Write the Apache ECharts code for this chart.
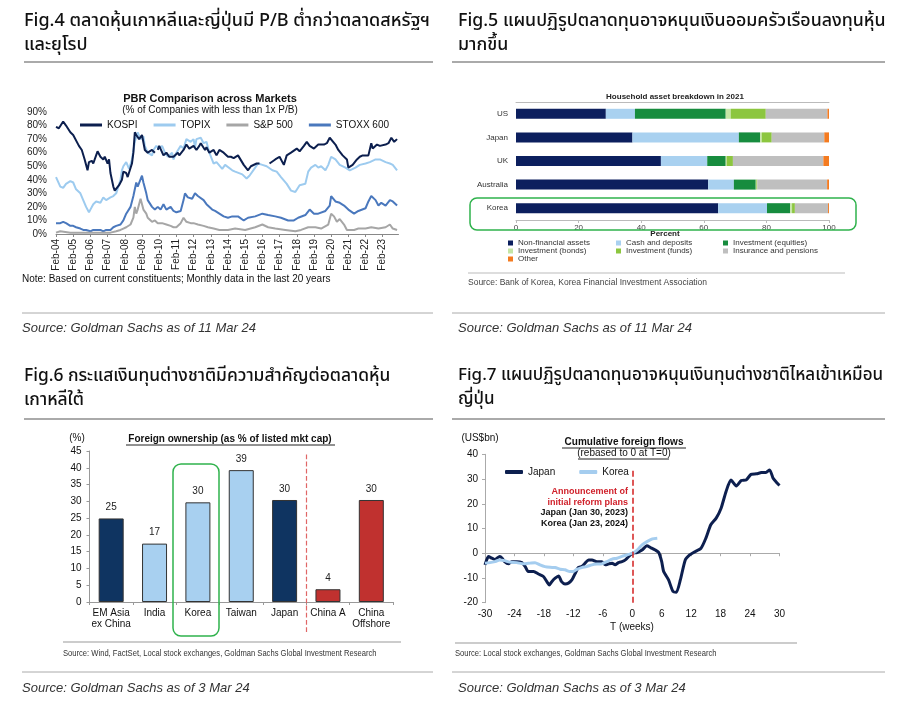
<!DOCTYPE html>
<html><head><meta charset="utf-8">
<script src="https://cdn.jsdelivr.net/npm/echarts@6/dist/echarts.min.js"></script>
<style>html,body{margin:0;padding:0;background:#fff}#c{width:900px;height:713px}</style>
</head><body><div id="c"></div>
<script>
// ---------- Fig.4 : PBR comparison (x = months since Feb-04) ----------
const pbrKOSPI = [[0,79],[2,78],[5,83],[7,80],[10,75],[12,73],[16,65],[18,62],[20,55],[22,47],[23,53],[25,54],[26,52],[28,58],[29,61],[31,57],[33,55],[34,57],[36,52],[37,55],[38,45],[40,35],[41,32],[44,36],[46,40],[47,46],[49,45],[50,42],[53,52],[54,60],[55,75],[56,73],[57,74],[58,70],[60,73],[62,62],[64,60],[67,62],[69,60],[70,'-'],[71,62],[72,65],[75,58],[77,60],[79,57],[82,57],[85,60],[86,58],[89,62],[91,66],[92,67],[93,63],[96,65],[98,62],[100,65],[101,67],[104,62],[105,64],[107,60],[110,62],[112,58],[114,62],[117,60],[120,57],[122,57],[124,56],[127,58],[131,51],[134,47],[136,50],[140,52],[142,52],[145,'-'],[149,52],[153,55],[156,57],[159,51],[161,58],[164,60],[168,63],[170,61],[173,65],[175,68],[177,65],[180,63],[183,66],[187,66],[189,67],[191,71],[192,72],[195,66],[197,62],[200,58],[203,55],[204,49],[207,51],[210,55],[212,57],[214,58],[218,58],[220,67],[221,63],[224,66],[226,65],[230,66],[232,67],[234,71],[235,70],[236,68],[238,70]];
const pbrTOPIX = [[0,42],[3,35],[5,34],[7,37],[10,39],[12,38],[14,33],[17,30],[19,25],[21,20],[23,16],[24,18],[26,22],[28,24],[31,23],[33,27],[35,25],[38,27],[40,28],[42,30],[45,40],[46,47],[47,50],[49,53],[51,48],[53,55],[55,68],[57,75],[59,70],[61,72],[62,65],[64,60],[67,58],[68,62],[70,65],[72,63],[74,65],[76,60],[78,57],[81,60],[82,55],[84,60],[87,65],[89,63],[91,70],[94,68],[96,70],[97,64],[98,70],[101,71],[103,67],[105,68],[107,60],[110,52],[112,53],[116,48],[118,51],[123,47],[125,46],[130,44],[133,41],[135,43],[139,49],[141,52],[144,51],[147,50],[151,47],[154,46],[157,42],[161,37],[164,32],[167,31],[170,36],[174,37],[176,46],[178,49],[181,51],[183,49],[185,50],[188,47],[190,51],[192,57],[195,55],[198,51],[202,49],[205,47],[209,49],[212,51],[216,52],[219,53],[223,55],[226,55],[230,53],[233,52],[235,51],[238,47]];
const pbrSP500 = [[0,1],[3,2],[10,1],[21,1],[33,1],[38,1],[42,2],[45,3],[47,4],[49,5],[52,7],[54,12],[55,20],[56,15],[57,18],[59,26],[61,18],[63,15],[64,12],[67,9],[69,10],[71,8],[74,8],[77,7],[80,6],[82,5],[84,5],[87,8],[89,12],[91,9],[94,8],[96,8],[99,7],[103,6],[106,5],[110,4],[114,3],[120,3],[125,4],[132,3],[139,5],[144,7],[148,5],[153,4],[160,3],[167,2],[171,3],[176,5],[181,5],[185,4],[190,7],[192,15],[194,13],[196,9],[198,11],[201,7],[203,3],[208,3],[211,4],[216,4],[220,5],[225,4],[230,5],[233,7],[235,4],[238,3]];
const pbrSTOXX = [[0,8],[3,8],[5,9],[7,8],[10,6],[12,6],[14,5],[17,4],[19,3],[21,3],[24,2],[26,3],[31,3],[33,2],[35,3],[38,3],[40,5],[42,6],[45,7],[47,10],[49,15],[52,20],[54,28],[56,38],[57,35],[60,43],[61,38],[63,30],[64,25],[67,20],[69,18],[71,20],[73,18],[75,22],[77,18],[80,20],[82,17],[84,16],[87,17],[89,25],[90,30],[92,27],[95,26],[97,30],[99,28],[103,25],[105,22],[109,18],[111,17],[114,15],[117,13],[120,12],[123,13],[127,13],[131,10],[134,12],[139,13],[144,15],[148,14],[153,13],[157,12],[162,10],[166,10],[169,12],[174,14],[177,18],[180,15],[183,15],[188,17],[191,21],[192,28],[195,24],[198,23],[201,21],[204,18],[208,15],[211,17],[216,19],[218,24],[220,28],[223,25],[225,21],[227,23],[230,21],[233,25],[235,24],[238,21]];
const pbrSeriesNames = ['KOSPI','TOPIX','S&P 500','STOXX 600'];

// ---------- Fig.5 : Household asset breakdown in 2021 ----------
const hhCountries = ['US','Japan','UK','Australia','Korea'];
const hhNonFin    = [28.7,37.2,46.3,61.4,64.6];
const hhCash      = [9.3,34.0,14.8,8.2,15.6];
const hhEquities  = [29.0,6.8,5.9,7.0,7.4];
const hhBonds     = [1.6,0.5,0.3,0.2,0.6];
const hhFunds     = [11.2,3.2,2.0,0.3,0.9];
const hhInsurance = [19.7,16.8,28.9,22.3,10.6];
const hhOther     = [0.5,1.5,1.8,0.6,0.3];
const hhNames = ['Non-financial assets','Cash and deposits','Investment (equities)','Investment (bonds)','Investment (funds)','Insurance and pensions','Other'];

// ---------- Fig.6 : Foreign ownership ----------
const foCategories = ['EM Asia\nex China','India','Korea','Taiwan','Japan','China A','China\nOffshore'];
const foValues = [24.9,17.4,29.7,39.3,30.4,3.8,30.4];

// ---------- Fig.7 : Cumulative foreign flows (T weeks, US$bn) ----------
const flowJapan = [[-30,-4.7],[-29.3,-1.3],[-28.6,-2],[-28,-2.5],[-27,-1.3],[-26.5,-2],[-26,-3.4],[-25.2,-4.3],[-24.6,-3.4],[-23.5,-3.4],[-22.5,-3.8],[-21.8,-5.4],[-21.2,-7.4],[-20.1,-7.4],[-19.1,-8.4],[-18.1,-9.4],[-17.4,-11.5],[-16.9,-12.8],[-16.4,-11.5],[-15.7,-10.1],[-15,-9.2],[-14.4,-11.5],[-13.7,-12.4],[-13,-12.1],[-12.3,-10.8],[-11.6,-8.1],[-11,-5.8],[-10.3,-5.4],[-9.6,-4],[-8.9,-2.7],[-8.2,-2.7],[-7.2,-3.4],[-6.2,-3.4],[-5.5,-4.7],[-4.8,-4.3],[-4.1,-4],[-3.5,-4.7],[-2.8,-3.8],[-2.1,-3.4],[-1.4,-2.7],[-0.7,-1.3],[0,0],[1,0.3],[2,1.3],[3,3],[3.7,2.3],[4.7,1.3],[5.4,0.3],[6,-3.4],[6.4,-7.4],[7.4,-10.8],[8.3,-15.5],[9,-15.8],[9.8,-10.8],[10.8,-2.7],[11.7,-0.7],[12.5,0.3],[14,2],[15,6.1],[16,11.5],[17.1,14.2],[18.1,18.2],[19.1,24.9],[20.1,29.6],[21.2,27.2],[22.2,29.4],[23.2,29.6],[24.2,31.9],[25.3,32.1],[26.3,32.6],[27.3,32.7],[28,33.7],[28.7,30.3],[29.4,28.6],[30,27.4]];
const flowKorea = [[-30,-4],[-29,-3.8],[-28,-3.4],[-27,-2.7],[-26,-3],[-25,-3.6],[-23.5,-3.8],[-22.2,-4.3],[-20.8,-4],[-19.8,-3.8],[-18.8,-4.7],[-17.8,-5.4],[-16.7,-5.7],[-15.7,-5.8],[-14.7,-6.5],[-13.7,-6.7],[-12.7,-7.4],[-12,-7.4],[-11.3,-6.5],[-10.3,-5.8],[-9.3,-5.4],[-8.2,-4.7],[-7.2,-4.4],[-6.2,-4.3],[-5.2,-3.4],[-4.1,-2.4],[-3.1,-2],[-2.1,-1.3],[-1.1,-0.7],[0,0],[1,1.3],[2,3.4],[3,4.7],[4.1,5.8],[5.1,6.1]];

// ---------- styling ----------
const FONT = '"Liberation Sans", Arial, sans-serif';
const THAI = '"Noto Sans Thai", "Noto Sans Thai Looped", "Noto Sans", "DejaVu Sans", sans-serif';
const hhColors = ['#0c1f5e','#a9d1f0','#178c3e','#c5e5a5','#8cc63f','#bfbfbf','#f47b20'];
const foColorFor = i => (i === 0 || i === 4) ? '#0f3461' : (i >= 5 ? '#c0312f' : '#a8d0f0');

function txt(x, y, text, o) {
  o = o || {};
  const st = {text, fontSize:o.size||10, fontFamily:o.family||FONT, fontWeight:o.weight||'normal',
    fontStyle:o.style||'normal', fill:o.color||'#222', align:o.align||'left', verticalAlign:'middle'};
  if (o.lh) st.lineHeight = o.lh;
  const el = {type:'text', x, y, silent:true, z:100, style:st};
  if (o.sx) el.scaleX = o.sx;
  return el;
}
function ln(x1,y1,x2,y2,c,w){ return {type:'line', silent:true, z:100, shape:{x1,y1,x2,y2}, style:{stroke:c||'#aaa', lineWidth:w||1}}; }
function rr(x,y,w,h,r,c){ return {type:'rect', silent:true, z:100, shape:{x,y,width:w,height:h,r}, style:{fill:'none', stroke:c, lineWidth:1.5}}; }

const thai = s => ({size:s, family:THAI, color:'#111', weight:500});
const srcStyle = {size:13, style:'italic', color:'#333'};
const narrowSrc = {size:9.5, color:'#333', sx:0.8};

const chart = echarts.init(document.getElementById('c'), null, {renderer:'canvas'});
const pbrColors = {'KOSPI':'#0c1f4e','TOPIX':'#9dcbef','S&P 500':'#a6a6a6','STOXX 600':'#4a78bd'};
const pbrData = {'KOSPI':pbrKOSPI,'TOPIX':pbrTOPIX,'S&P 500':pbrSP500,'STOXX 600':pbrSTOXX};
const hhData = [hhNonFin,hhCash,hhEquities,hhBonds,hhFunds,hhInsurance,hhOther];

const option = {
  backgroundColor:'#fff',
  animation:false,
  textStyle:{fontFamily:FONT},
  grid:[
    {left:56, top:112, width:342.5, height:122},
    {left:516, top:102, width:313, height:118},
    {left:89.5, top:451, width:303.5, height:151},
    {left:89.5, top:452, width:303.5, height:180},
    {left:485, top:454.3, width:294.5, height:148.4}
  ],
  xAxis:[
    {gridIndex:0, type:'value', min:0, max:239, interval:12,
     axisLine:{show:true, lineStyle:{color:'#888'}}, axisTick:{show:true, length:3, lineStyle:{color:'#888'}},
     splitLine:{show:false},
     axisLabel:{rotate:90, fontSize:10, color:'#222', margin:5, showMaxLabel:false,
       formatter: v => (Math.abs(v % 12) < 1e-6) ? 'Feb-' + String(4 + Math.round(v/12)).padStart(2,'0') : ''}},
    {gridIndex:1, type:'value', min:0, max:100, interval:20, position:'bottom',
     axisLine:{show:true, lineStyle:{color:'#bbb'}}, axisTick:{show:true, length:3, lineStyle:{color:'#bbb'}},
     splitLine:{show:false}, axisLabel:{fontSize:8, color:'#444', margin:4}},
    {gridIndex:1, type:'value', min:0, max:100, position:'top',
     axisLine:{show:true, lineStyle:{color:'#bbb'}}, axisTick:{show:false}, axisLabel:{show:false}, splitLine:{show:false}},
    {gridIndex:2, type:'category', data:foCategories,
     axisLine:{show:true, lineStyle:{color:'#999'}}, axisTick:{show:true, length:3, lineStyle:{color:'#999'}},
     axisLabel:{fontSize:10, color:'#111', margin:6, lineHeight:11, interval:0}},
    {gridIndex:3, type:'value', min:0, max:7, show:false},
    {gridIndex:4, type:'value', min:-30, max:30, interval:6, position:'bottom',
     axisLine:{show:true, onZero:true, lineStyle:{color:'#aaa'}}, axisTick:{show:true, length:3, lineStyle:{color:'#aaa'}},
     axisLabel:{show:false}, splitLine:{show:false}},
    {gridIndex:4, type:'value', min:-30, max:30, interval:6, position:'bottom',
     axisLine:{show:false, onZero:false}, axisTick:{show:false},
     axisLabel:{fontSize:10, color:'#111', margin:7}, splitLine:{show:false}}
  ],
  yAxis:[
    {gridIndex:0, type:'value', min:0, max:90, interval:10, axisLine:{show:false}, axisTick:{show:false},
     splitLine:{show:false}, axisLabel:{formatter:'{value}%', fontSize:10, color:'#222', margin:9}},
    {gridIndex:1, type:'category', inverse:true, data:hhCountries, axisLine:{show:false}, axisTick:{show:false},
     axisLabel:{fontSize:8, color:'#333', margin:8}},
    {gridIndex:2, type:'value', min:0, max:45, interval:5,
     axisLine:{show:true, lineStyle:{color:'#999'}}, axisTick:{show:true, length:3, lineStyle:{color:'#999'}},
     splitLine:{show:false}, axisLabel:{fontSize:10, color:'#111', margin:8}},
    {gridIndex:3, type:'value', min:0, max:1, show:false},
    {gridIndex:4, type:'value', min:-20, max:40, interval:10,
     axisLine:{show:true, onZero:false, lineStyle:{color:'#aaa'}}, axisTick:{show:true, length:3, lineStyle:{color:'#aaa'}},
     splitLine:{show:false}, axisLabel:{fontSize:10, color:'#111', margin:7}}
  ],
  legend:[
    {data:pbrSeriesNames, left:75, top:115, icon:'rect', itemWidth:22, itemHeight:3, itemGap:16,
     textStyle:{fontSize:10, color:'#111', fontFamily:FONT}},
    {data:[hhNames[0],hhNames[3],hhNames[6]], orient:'vertical', left:503, top:234, icon:'rect', itemWidth:5, itemHeight:5, itemGap:0,
     textStyle:{fontSize:8, lineHeight:8, color:'#333', fontFamily:FONT}},
    {data:[hhNames[1],hhNames[4]], orient:'vertical', left:611, top:234, icon:'rect', itemWidth:5, itemHeight:5, itemGap:0,
     textStyle:{fontSize:8, lineHeight:8, color:'#333', fontFamily:FONT}},
    {data:[hhNames[2],hhNames[5]], orient:'vertical', left:718, top:234, icon:'rect', itemWidth:5, itemHeight:5, itemGap:0,
     textStyle:{fontSize:8, lineHeight:8, color:'#333', fontFamily:FONT}},
    {data:['Japan','Korea'], left:500, top:462, icon:'roundRect', itemWidth:18, itemHeight:4, itemGap:24,
     textStyle:{fontSize:10, color:'#111', fontFamily:FONT}}
  ],
  series:[
    ...['STOXX 600','S&P 500','TOPIX','KOSPI'].map(n => ({
      name:n, type:'line', xAxisIndex:0, yAxisIndex:0, data:pbrData[n], showSymbol:false, silent:true,
      lineStyle:{width:2, color:pbrColors[n]}, itemStyle:{color:pbrColors[n]}
    })),
    ...hhNames.map((n,i) => ({
      name:n, type:'bar', stack:'hh', xAxisIndex:1, yAxisIndex:1, barWidth:10, data:hhData[i], silent:true,
      itemStyle:{color:hhColors[i]}
    })),
    {name:'Foreign ownership', type:'bar', xAxisIndex:3, yAxisIndex:2, barWidth:25, silent:true,
     data:foValues.map((v,i) => ({value:v, itemStyle:{color:foColorFor(i)}})),
     itemStyle:{borderColor:'#333', borderWidth:1},
     label:{show:true, position:'top', fontSize:10, color:'#222', distance:6, formatter: p => Math.round(p.value)}},
    {name:'divider', type:'line', xAxisIndex:4, yAxisIndex:3, data:[], silent:true,
     markLine:{silent:true, symbol:'none', label:{show:false}, lineStyle:{type:'dashed', color:'#e06666', width:1.2},
       data:[{xAxis:5}]}},
    {name:'Japan', type:'line', xAxisIndex:5, yAxisIndex:4, data:flowJapan, showSymbol:false, silent:true, smooth:0.2,
     lineStyle:{width:3, color:'#0d1f4f'}, itemStyle:{color:'#0d1f4f'},
     markLine:{silent:true, symbol:'none', label:{show:false}, lineStyle:{type:'dashed', color:'#d32020', width:1.5},
       data:[[{coord:[0,-20]},{coord:[0,34]}]]}},
    {name:'Korea', type:'line', xAxisIndex:5, yAxisIndex:4, data:flowKorea, showSymbol:false, silent:true, smooth:0.2,
     lineStyle:{width:3, color:'#a5cdef'}, itemStyle:{color:'#a5cdef'}}
  ],
  graphic:[
    // Fig.4
    txt(24,22,'Fig.4 ตลาดหุ้นเกาหลีและญี่ปุ่นมี P/B ต่ำกว่าตลาดสหรัฐฯ',thai(18)),
    txt(24,46,'และยุโรป',thai(18)),
    ln(24,62,433,62,'#aaa',2),
    txt(210,99,'PBR Comparison across Markets',{size:11, weight:'bold', align:'center', color:'#111'}),
    txt(210,110,'(% of Companies with less than 1x P/B)',{size:10, align:'center', color:'#111'}),
    txt(22,279,'Note: Based on current constituents; Monthly data in the last 20 years',{size:10, color:'#111'}),
    ln(22,313,433,313,'#aaa',1),
    txt(22,328,'Source: Goldman Sachs as of 11 Mar 24',srcStyle),
    // Fig.5
    txt(458,22,'Fig.5 แผนปฏิรูปตลาดทุนอาจหนุนเงินออมครัวเรือนลงทุนหุ้น',thai(17.8)),
    txt(458,46,'มากขึ้น',thai(17.8)),
    ln(452,62,885,62,'#aaa',2),
    txt(675,97,'Household asset breakdown in 2021',{size:8, weight:'bold', align:'center', color:'#222'}),
    txt(665,234,'Percent',{size:8, weight:'bold', align:'center', color:'#222'}),
    rr(470,198,386,32,7,'#2fb24c'),
    ln(468,273,845,273,'#bbb',1),
    txt(468,283,'Source: Bank of Korea, Korea Financial Investment Association',{size:8.5, color:'#444'}),
    ln(452,313,885,313,'#aaa',1),
    txt(458,328,'Source: Goldman Sachs as of 11 Mar 24',srcStyle),
    // Fig.6
    txt(24,377,'Fig.6 กระแสเงินทุนต่างชาติมีความสำคัญต่อตลาดหุ้น',thai(17.4)),
    txt(24,401,'เกาหลีใต้',thai(17.4)),
    ln(24,419,433,419,'#aaa',2),
    txt(230,439,'Foreign ownership (as % of listed mkt cap)',{size:10, weight:'bold', align:'center', color:'#111'}),
    ln(126,445,335,445,'#222',1),
    txt(77,438,'(%)',{size:10, align:'center', color:'#111'}),
    rr(173,464,46,172,8,'#2fb24c'),
    ln(63,642,401,642,'#999',1),
    txt(63,653,'Source: Wind, FactSet, Local stock exchanges, Goldman Sachs Global Investment Research',narrowSrc),
    ln(22,672,433,672,'#aaa',1),
    txt(22,688,'Source: Goldman Sachs as of 3 Mar 24',srcStyle),
    // Fig.7
    txt(458,377,'Fig.7 แผนปฏิรูปตลาดทุนอาจหนุนเงินทุนต่างชาติไหลเข้าเหมือน',thai(17)),
    txt(458,401,'ญี่ปุ่น',thai(17)),
    ln(452,419,885,419,'#aaa',2),
    txt(624,442,'Cumulative foreign flows',{size:10, weight:'bold', align:'center', color:'#111'}),
    ln(562,448,686,448,'#222',1),
    txt(624,453,'(rebased to 0 at T=0)',{size:10, align:'center', color:'#111'}),
    ln(578,459,669,459,'#222',1),
    txt(480,438,'(US$bn)',{size:10, align:'center', color:'#111'}),
    txt(628,497,'Announcement of\ninitial reform plans',{size:9, weight:'bold', color:'#d0202a', align:'right', lh:10.5}),
    txt(628,518,'Japan (Jan 30, 2023)\nKorea (Jan 23, 2024)',{size:9, weight:'bold', color:'#111', align:'right', lh:10.5}),
    txt(632,627,'T (weeks)',{size:10, align:'center', color:'#111'}),
    ln(455,643,797,643,'#999',1),
    txt(455,653,'Source: Local stock exchanges, Goldman Sachs Global Investment Research',narrowSrc),
    ln(452,672,885,672,'#aaa',1),
    txt(458,688,'Source: Goldman Sachs as of 3 Mar 24',srcStyle)
  ]
};
chart.setOption(option);
</script></body></html>
